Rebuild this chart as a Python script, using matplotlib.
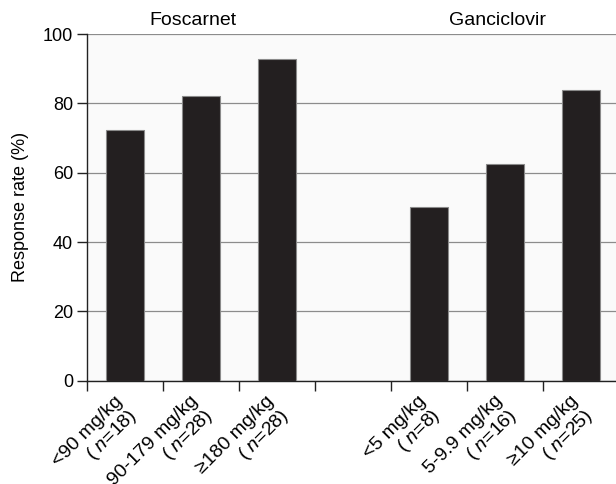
import numpy as np
import matplotlib
matplotlib.use("Agg")
from matplotlib import pyplot as plt

plt.rcParams['font.family'] = ['Liberation Sans', 'DejaVu Sans']
plt.rcParams['mathtext.fontset'] = 'custom'
plt.rcParams['mathtext.it'] = 'Liberation Sans:italic'
plt.rcParams['mathtext.rm'] = 'Liberation Sans'

# data
groups = ["Foscarnet", "Ganciclovir"]
slots = [0, 1, 2, 4, 5, 6]   # slot 3 is left empty between the two drugs
doses = ["<90 mg/kg", "90-179 mg/kg", "\u2265180 mg/kg",
         "<5 mg/kg", "5-9.9 mg/kg", "\u226510 mg/kg"]
n_pat = [18, 28, 28, 8, 16, 25]
response = [72.2, 82.1, 92.9, 50.0, 62.5, 84.0]

fig = plt.figure(figsize=(6.16, 4.84), dpi=100)
ax = fig.add_axes([87 / 616, 103.3 / 484, 532 / 616, 346.6 / 484])
ax.set_facecolor("#fafafa")

x = np.array(slots) + 0.5
ax.bar(x, response, width=0.51, color="#231f20", edgecolor="#8a8a8a",
       linewidth=0.8, zorder=3)

ax.set_xlim(0, 7)
ax.set_ylim(0, 100)
ax.set_yticks([0, 20, 40, 60, 80, 100])
ax.set_xticks(np.arange(0, 8))
ax.set_xticklabels([])
ax.yaxis.grid(True, color="#8c8c8c", linewidth=0.9)
ax.set_axisbelow(True)
for s in ["top", "right"]:
    ax.spines[s].set_visible(False)
for s in ["left", "bottom"]:
    ax.spines[s].set_color("#222222")
    ax.spines[s].set_linewidth(1.0)
ax.tick_params(axis="both", direction="out", length=7, width=1.0,
               color="#222222", labelsize=13)
ax.tick_params(axis="y", pad=3)
ax.set_ylabel("Response rate (%)", fontsize=13, labelpad=10)

# rotated two-line dose labels
for xi, d, n in zip(x, doses, n_pat):
    ax.text(xi - 0.15, -3.4, d + "\n( $\\mathit{n}$=%d)" % n, rotation=45,
            rotation_mode="anchor", ha="right", va="top",
            multialignment="right", fontsize=14, clip_on=False,
            linespacing=1.08)

# group titles
ax.text(1.4, 103.8, groups[0], ha="center", va="center", fontsize=14,
        clip_on=False)
ax.text(5.4, 103.8, groups[1], ha="center", va="center", fontsize=14,
        clip_on=False)

fig.savefig("out.png", dpi=100)
